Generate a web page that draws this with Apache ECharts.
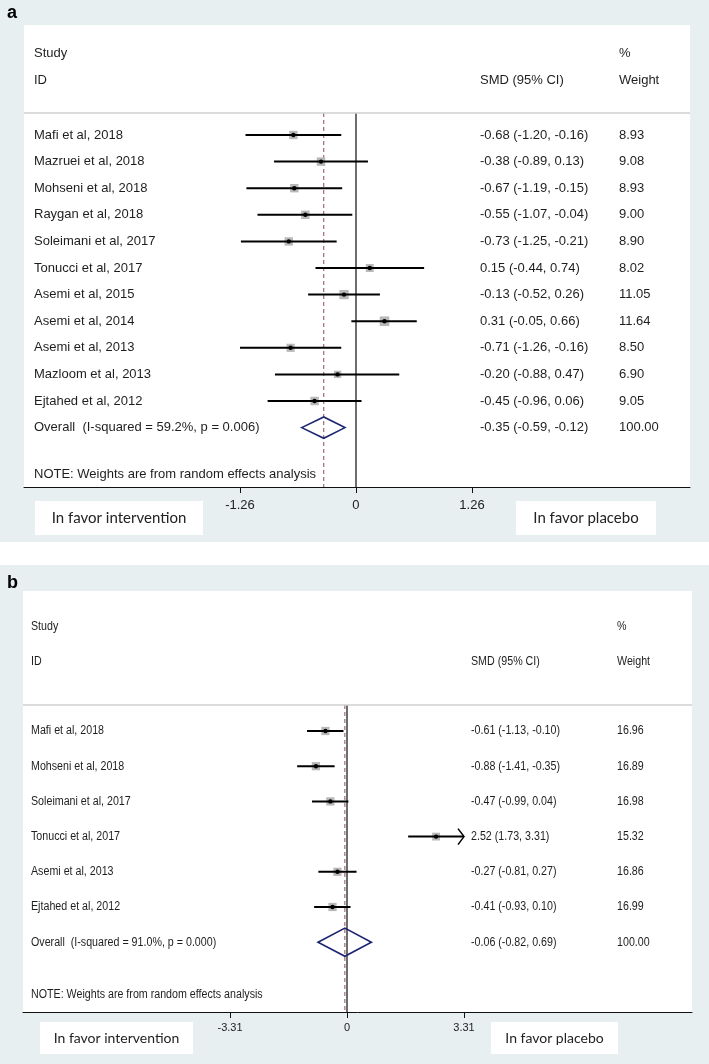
<!DOCTYPE html>
<html>
<head>
<meta charset="utf-8">
<script src="https://cdn.jsdelivr.net/npm/echarts@6/dist/echarts.min.js"></script>
<style>
html,body{margin:0;padding:0;background:#fff;}
#c{width:709px;height:1064px;}
</style>
</head>
<body>
<div id="c"></div>
<script>
// ---------- Panel a data ----------
const studiesA = ['Mafi et al, 2018','Mazruei et al, 2018','Mohseni et al, 2018','Raygan et al, 2018','Soleimani et al, 2017','Tonucci et al, 2017','Asemi et al, 2015','Asemi et al, 2014','Asemi et al, 2013','Mazloom et al, 2013','Ejtahed et al, 2012'];
const smdA    = [-0.68,-0.38,-0.67,-0.55,-0.73, 0.15,-0.13, 0.31,-0.71,-0.20,-0.45];
const lowA    = [-1.20,-0.89,-1.19,-1.07,-1.25,-0.44,-0.52,-0.05,-1.26,-0.88,-0.96];
const highA   = [-0.16, 0.13,-0.15,-0.04,-0.21, 0.74, 0.26, 0.66,-0.16, 0.47, 0.06];
const weightA = [8.93, 9.08, 8.93, 9.00, 8.90, 8.02, 11.05, 11.64, 8.50, 6.90, 9.05];
const overallA = [-0.35, -0.59, -0.12, 100.00];
const overallLabelA = 'Overall  (I-squared = 59.2%, p = 0.006)';
const ticksA = [-1.26, 0, 1.26];

// ---------- Panel b data ----------
const studiesB = ['Mafi et al, 2018','Mohseni et al, 2018','Soleimani et al, 2017','Tonucci et al, 2017','Asemi et al, 2013','Ejtahed et al, 2012'];
const smdB    = [-0.61,-0.88,-0.47, 2.52,-0.27,-0.41];
const lowB    = [-1.13,-1.41,-0.99, 1.73,-0.81,-0.93];
const highB   = [-0.10,-0.35, 0.04, 3.31, 0.27, 0.10];
const weightB = [16.96, 16.89, 16.98, 15.32, 16.86, 16.99];
const overallB = [-0.06, -0.82, 0.69, 100.00];
const overallLabelB = 'Overall  (I-squared = 91.0%, p = 0.000)';
const ticksB = [-3.31, 0, 3.31];

const noteText = 'NOTE: Weights are from random effects analysis';
const leftLabel = 'In favor intervention';
const rightLabel = 'In favor placebo';

// ---------- layout (positions / styles only) ----------
const BG = '#e8eff1';
const TXT = '#1e1e1e';
const FONT = '"Liberation Sans", Arial, sans-serif';
const panels = [
  { key:'a', studies:studiesA, smd:smdA, low:lowA, high:highA, w:weightA, ov:overallA, ovLabel:overallLabelA, ticks:ticksA,
    grid:{left:24, top:25, width:666, height:462}, xmin:-3.606, xmax:3.628, ymin:-4.135, ymax:13.233,
    rStudy:-3.08, rID:-2.07, rSep:-0.827, rOverall:11, rNote:12.75,
    colName:34, colSmd:480, colW:619, fs:13, sx:1, tickFs:13,
    sq:2.8, dot:2.2, dia:0.4, labelMargin:12, boxFs:15 },
  { key:'b', studies:studiesB, smd:smdB, low:lowB, high:highB, w:weightB, ov:overallB, ovLabel:overallLabelB, ticks:ticksB,
    grid:{left:23, top:591, width:669, height:421}, xmin:-9.166, xmax:9.76, ymin:-3.977, ymax:7.983,
    rStudy:-2.955, rID:-1.96, rSep:-0.739, rOverall:6, rNote:7.5,
    colName:31, colSmd:471, colW:617, fs:12, sx:0.89, tickFs:11,
    sq:2.0, dot:2.2, dia:0.4, labelMargin:10, boxFs:14 }
];

const fmt = v => v.toFixed(2);
const ciText = (m,l,h) => fmt(m) + ' (' + fmt(l) + ', ' + fmt(h) + ')';

const grids = [], xAxes = [], yAxes = [], series = [];
panels.forEach((p, pi) => {
  grids.push({left:p.grid.left, top:p.grid.top, width:p.grid.width, height:p.grid.height, containLabel:false});
  xAxes.push({
    type:'value', gridIndex:pi, min:p.xmin, max:p.xmax, position:'bottom',
    axisLine:{show:true, onZero:false, lineStyle:{color:'#111', width:1}},
    axisTick:{show:true, customValues:p.ticks, length:6, lineStyle:{color:'#111', width:1}},
    axisLabel:{show:true, customValues:p.ticks, formatter:v => (v===0?'0':fmt(v)), fontSize:p.tickFs, fontFamily:FONT, color:'#222', margin:p.labelMargin},
    splitLine:{show:false}
  });
  yAxes.push({type:'value', gridIndex:pi, min:p.ymin, max:p.ymax, inverse:true, show:false, splitLine:{show:false}});

  const textStyle = (text, x, y) => ({type:'text', x:x, y:y, scaleX:p.sx, silent:true,
    style:{text:text, fill:TXT, fontSize:p.fs, fontFamily:FONT, align:'left', verticalAlign:'middle'}});

  // reference lines (zero & pooled estimate)
  series.push({
    type:'custom', xAxisIndex:pi, yAxisIndex:pi, z:3, silent:true,
    data:[[0, p.rSep, p.ymax, 0], [p.ov[0], p.rSep, p.ymax, 1]],
    renderItem:(params, api) => {
      const a = api.coord([api.value(0), api.value(1)]);
      const b = api.coord([api.value(0), api.value(2)]);
      const dashed = api.value(3) === 1;
      return {type:'line', shape:{x1:a[0], y1:a[1], x2:b[0], y2:b[1]},
        style: dashed ? {stroke:'#8e4a56', lineWidth:1, lineDash:[4,3]} : {stroke:'#4a4a4a', lineWidth:1.6}};
    }
  });

  // study rows
  series.push({
    type:'custom', xAxisIndex:pi, yAxisIndex:pi, z:4, silent:true,
    data:p.studies.map((s,i) => [i, p.smd[i], p.low[i], p.high[i], p.w[i]]),
    renderItem:(params, api) => {
      const i = params.dataIndex;
      const r = api.value(0), m = api.value(1), lo = api.value(2), hi = api.value(3), w = api.value(4);
      const clipMax = p.ticks[p.ticks.length-1];
      const clipMin = p.ticks[0];
      const pl = api.coord([Math.max(lo, clipMin), r]);
      const ph = api.coord([Math.min(hi, clipMax), r]);
      const pm = api.coord([m, r]);
      const s = p.sq * Math.sqrt(w);
      const ch = [
        {type:'rect', shape:{x:pm[0]-s/2, y:pm[1]-s/2, width:s, height:s}, style:{fill:'#b8b8b8'}},
        {type:'line', shape:{x1:pl[0], y1:pl[1], x2:ph[0], y2:ph[1]}, style:{stroke:'#000', lineWidth:2}},
        {type:'circle', shape:{cx:pm[0], cy:pm[1], r:p.dot}, style:{fill:'#000'}}
      ];
      if (hi >= clipMax) {
        ch.push({type:'polyline', shape:{points:[[ph[0]-6, ph[1]-8],[ph[0], ph[1]],[ph[0]-6, ph[1]+8]]}, style:{stroke:'#000', lineWidth:1.5, fill:null}});
      }
      ch.push(textStyle(p.studies[i], p.colName, pm[1]));
      ch.push(textStyle(ciText(m, lo, hi), p.colSmd, pm[1]));
      ch.push(textStyle(fmt(w), p.colW, pm[1]));
      return {type:'group', children:ch};
    }
  });

  // overall diamond
  series.push({
    type:'custom', xAxisIndex:pi, yAxisIndex:pi, z:5, silent:true,
    data:[[p.rOverall, p.ov[0], p.ov[1], p.ov[2], p.ov[3]]],
    renderItem:(params, api) => {
      const r = api.value(0), m = api.value(1), lo = api.value(2), hi = api.value(3), w = api.value(4);
      const L = api.coord([lo, r]), H = api.coord([hi, r]), T = api.coord([m, r - p.dia]), B = api.coord([m, r + p.dia]);
      return {type:'group', children:[
        {type:'polygon', shape:{points:[L, T, H, B]}, style:{fill:null, stroke:'#1b2470', lineWidth:1.6}},
        textStyle(p.ovLabel, p.colName, L[1]),
        textStyle(ciText(m, lo, hi), p.colSmd, L[1]),
        textStyle(fmt(w), p.colW, L[1])
      ]};
    }
  });

  // headers, separator, note
  series.push({
    type:'custom', xAxisIndex:pi, yAxisIndex:pi, z:5, silent:true,
    data:[[p.rStudy],[p.rID],[p.rSep],[p.rNote]],
    renderItem:(params, api) => {
      const y = api.coord([0, api.value(0)])[1];
      const k = params.dataIndex;
      if (k === 0) return {type:'group', children:[textStyle('Study', p.colName, y), textStyle('%', p.colW, y)]};
      if (k === 1) return {type:'group', children:[textStyle('ID', p.colName, y), textStyle('SMD (95% CI)', p.colSmd, y), textStyle('Weight', p.colW, y)]};
      if (k === 2) return {type:'line', shape:{x1:p.grid.left, y1:y, x2:p.grid.left+p.grid.width, y2:y}, style:{stroke:'#cfcfcf', lineWidth:1.5}};
      return textStyle(noteText, p.colName, y);
    }
  });
});

const labelBox = (x, y, w, h, text, fs) => ({
  type:'group', children:[
    {type:'rect', shape:{x:x, y:y, width:w, height:h}, style:{fill:'#fff'}, z:-5},
    {type:'text', x:x + w/2, y:y + h/2, z:1, style:{text:text, fill:'#222', fontSize:fs, fontFamily:'Lato, "Open Sans", sans-serif', align:'center', verticalAlign:'middle'}}
  ]
});

const graphic = [
  {type:'rect', shape:{x:0, y:0, width:709, height:542}, style:{fill:BG}, z:-10},
  {type:'rect', shape:{x:0, y:565, width:709, height:499}, style:{fill:BG}, z:-10},
  {type:'rect', shape:{x:24, y:25, width:666, height:462}, style:{fill:'#fff'}, z:-9},
  {type:'rect', shape:{x:23, y:591, width:669, height:421}, style:{fill:'#fff'}, z:-9},
  {type:'text', x:7, y:13, style:{text:'a', fill:'#000', fontSize:18, fontWeight:'bold', fontFamily:FONT, verticalAlign:'middle'}},
  {type:'text', x:7, y:583, style:{text:'b', fill:'#000', fontSize:18, fontWeight:'bold', fontFamily:FONT, verticalAlign:'middle'}},
  labelBox(35, 501, 168, 34, leftLabel, panels[0].boxFs),
  labelBox(516, 501, 140, 34, rightLabel, panels[0].boxFs),
  labelBox(40, 1022, 153, 32, leftLabel, panels[1].boxFs),
  labelBox(491, 1022, 127, 32, rightLabel, panels[1].boxFs)
];

const chart = echarts.init(document.getElementById('c'), null, {renderer:'canvas'});
chart.setOption({
  animation:false,
  backgroundColor:'#fff',
  grid:grids, xAxis:xAxes, yAxis:yAxes, series:series, graphic:graphic
});
</script>
</body>
</html>
